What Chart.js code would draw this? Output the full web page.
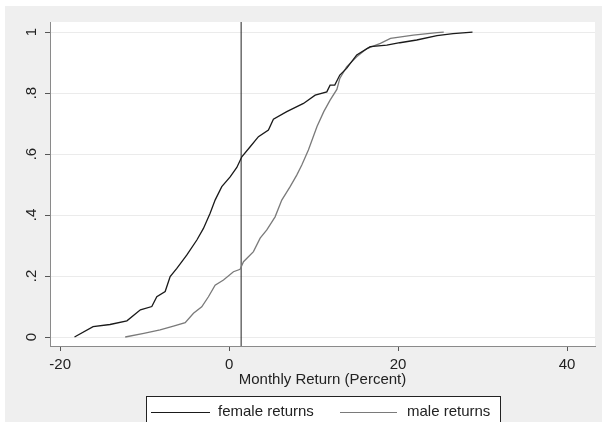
<!DOCTYPE html>
<html lang="en">
<head>
<meta charset="UTF-8">
<title>Monthly return CDF</title>
<script src="https://cdn.jsdelivr.net/npm/chart.js@4.4.0/dist/chart.umd.min.js"></script>
<style>
  html, body { margin: 0; padding: 0; background: #fff; }
  #wrap { width: 602px; height: 422px; }
</style>
</head>
<body>
<div id="wrap"><canvas id="chart" width="602" height="422"></canvas></div>
<script>
const femaleX   = [-18.3, -16.1, -14.1, -12.1, -10.5, -9.15, -8.56, -7.57, -6.98, -6.19, -5.0, -3.82, -3.04, -2.25, -1.66, -0.87, 0.12, 0.91, 1.5, 2.49, 3.47, 4.65, 5.24, 6.82, 8.8, 10.18, 11.56, 11.95, 12.5, 13.1, 13.9, 15.1, 16.7, 18.66, 20.2, 22.2, 24.6, 26.5, 28.8];
const femaleCdf = [0.0, 0.034, 0.041, 0.053, 0.089, 0.10, 0.132, 0.149, 0.198, 0.225, 0.269, 0.318, 0.356, 0.406, 0.449, 0.493, 0.525, 0.556, 0.591, 0.624, 0.657, 0.679, 0.714, 0.739, 0.766, 0.793, 0.804, 0.826, 0.826, 0.859, 0.881, 0.925, 0.952, 0.957, 0.965, 0.974, 0.988, 0.995, 1.0];
const maleX     = [-12.3, -10.1, -8.17, -6.59, -5.2, -4.22, -3.24, -2.45, -1.66, -0.67, 0.51, 1.3, 1.7, 2.88, 3.67, 4.46, 5.44, 6.23, 7.22, 8.0, 8.6, 9.38, 10.4, 11.2, 11.95, 12.75, 13.1, 13.9, 15.1, 16.3, 17.9, 19.1, 21.8, 24.6, 25.4];
const maleCdf   = [0.0, 0.012, 0.023, 0.036, 0.047, 0.078, 0.099, 0.132, 0.17, 0.187, 0.214, 0.222, 0.247, 0.28, 0.324, 0.351, 0.394, 0.449, 0.493, 0.531, 0.564, 0.613, 0.69, 0.739, 0.777, 0.812, 0.848, 0.886, 0.919, 0.946, 0.963, 0.979, 0.99, 0.998, 1.0];
const meanReturn = 1.42;

const xTicks = [-20, 0, 20, 40];
const yTicks = [0, 0.2, 0.4, 0.6, 0.8, 1];
const yTickLabels = ['0', '.2', '.4', '.6', '.8', '1'];
const seriesLabels = ['female returns', 'male returns'];

const xMin = -21.2, xMax = 43.3;
const yMin = -0.0295, yMax = 1.033;

const FONT = "'Liberation Sans', Arial, sans-serif";

const toPts = (xs, ys) => xs.map((x, i) => ({ x: x, y: ys[i] }));

// gray graph region + white plot region
const background = {
  id: 'background',
  beforeDraw(chart) {
    const { ctx, chartArea: a } = chart;
    ctx.save();
    ctx.fillStyle = '#fff';
    ctx.fillRect(0, 0, chart.width, chart.height);
    ctx.fillStyle = '#efefef';
    ctx.fillRect(5, 6, chart.width - 5, chart.height - 6);
    ctx.fillStyle = '#fff';
    ctx.fillRect(a.left, a.top, a.right - a.left, a.bottom - a.top);
    ctx.restore();
  }
};

// boxed legend under the axis title
const boxLegend = {
  id: 'boxLegend',
  afterDraw(chart) {
    const ctx = chart.ctx;
    ctx.save();
    ctx.fillStyle = '#fff';
    ctx.fillRect(146, 396, 354, 40);
    ctx.strokeStyle = '#222';
    ctx.lineWidth = 1;
    ctx.strokeRect(146.5, 396.5, 354, 40);
    ctx.font = '15px ' + FONT;
    ctx.textBaseline = 'middle';
    const items = [
      { x1: 151, x2: 210, tx: 218 },
      { x1: 340, x2: 397, tx: 407 }
    ];
    items.forEach((it, i) => {
      const ds = chart.data.datasets[i];
      ctx.strokeStyle = ds.borderColor;
      ctx.lineWidth = 1.2;
      ctx.beginPath();
      ctx.moveTo(it.x1, 412.5);
      ctx.lineTo(it.x2, 412.5);
      ctx.stroke();
      ctx.fillStyle = '#222';
      ctx.fillText(seriesLabels[i], it.tx, 412);
    });
    ctx.restore();
  }
};

new Chart(document.getElementById('chart'), {
  type: 'scatter',
  data: {
    datasets: [
      { label: seriesLabels[0], data: toPts(femaleX, femaleCdf), showLine: true,
        borderColor: '#1a1a1a', borderWidth: 1.3, pointRadius: 0, tension: 0 },
      { label: seriesLabels[1], data: toPts(maleX, maleCdf), showLine: true,
        borderColor: '#7a7a7a', borderWidth: 1.3, pointRadius: 0, tension: 0 },
      { label: 'mean', data: [{ x: meanReturn, y: yMin }, { x: meanReturn, y: yMax }], showLine: true,
        borderColor: '#222', borderWidth: 1, pointRadius: 0 }
    ]
  },
  options: {
    responsive: false,
    animation: false,
    layout: { padding: { top: 22, right: 7, bottom: 0, left: 0 } },
    plugins: { legend: { display: false }, tooltip: { enabled: false } },
    scales: {
      x: {
        type: 'linear', position: 'bottom', min: xMin, max: xMax,
        afterBuildTicks: s => { s.ticks = xTicks.map(v => ({ value: v })); },
        afterFit: s => { s.height = 76; },
        border: { color: '#8a8a8a', width: 1 },
        grid: { drawOnChartArea: false, tickColor: '#555', tickLength: 5 },
        ticks: { color: '#222', font: { family: FONT, size: 15 }, padding: 5, maxRotation: 0 },
        title: { display: true, text: 'Monthly Return (Percent)', color: '#222',
                 font: { family: FONT, size: 15 }, padding: { top: 0, bottom: 33 } }
      },
      y: {
        type: 'linear', min: yMin, max: yMax,
        afterBuildTicks: s => { s.ticks = yTicks.map(v => ({ value: v })); },
        afterFit: s => { s.width = 50; },
        border: { color: '#8a8a8a', width: 1 },
        grid: { color: '#ebebeb', tickColor: '#555', tickLength: 5 },
        ticks: { color: '#222', font: { family: FONT, size: 15 }, padding: 7,
                 minRotation: 90, maxRotation: 90, crossAlign: 'center',
                 callback: (v) => yTickLabels[yTicks.indexOf(v)] }
      }
    }
  },
  plugins: [background, boxLegend]
});
</script>
</body>
</html>
